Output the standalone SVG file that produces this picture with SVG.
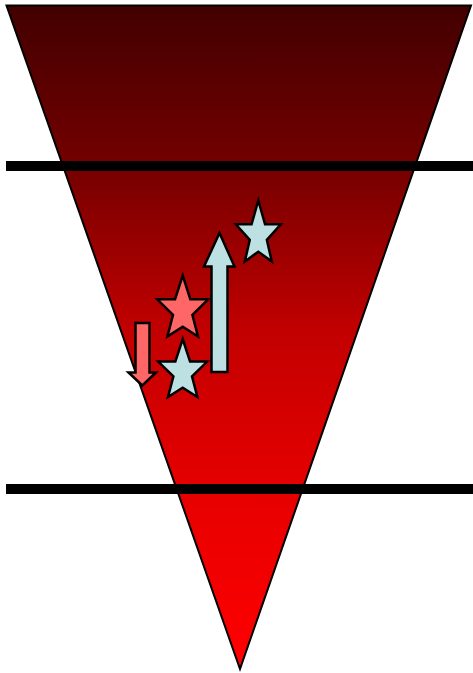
<svg xmlns="http://www.w3.org/2000/svg" width="473" height="673" viewBox="0 0 473 673">
  <style>
    .shape { stroke: #000; stroke-width: 2.5; stroke-linejoin: miter; }
    .funnel { stroke: #000; stroke-width: 2; }
    .blue { fill: #bde0e3; }
    .red { fill: #ff6666; }
    .bar { stroke: #000; stroke-width: 10; fill: none; }
  </style>
  <defs>
    <linearGradient id="grad" gradientUnits="userSpaceOnUse" x1="0" y1="5" x2="0" y2="669">
      <stop offset="0" stop-color="#420000"/>
      <stop offset="0.242" stop-color="#740000"/>
      <stop offset="0.49" stop-color="#c20000"/>
      <stop offset="0.73" stop-color="#e60000"/>
      <stop offset="1" stop-color="#ff0000"/>
    </linearGradient>
  </defs>
  <rect width="473" height="673" fill="#fff"/>
  <g id="funnel">
    <polygon class="funnel" fill="url(#grad)" points="6.5,5.5 471,5.5 240,669"/>
  </g>
  <g id="connectors">
    <line class="bar" x1="6" y1="166" x2="473" y2="166"/>
    <line class="bar" x1="6" y1="489" x2="473" y2="489"/>
  </g>
  <g id="star-top">
    <polygon class="shape blue" points="258.3,200.5 265.05,224.3 280.8,224.3 266.85,239.8 271.8,261.5 258.3,251.7 244.8,261.5 249.75,239.8 235.8,224.3 251.55,224.3"/>
  </g>
  <g id="star-red">
    <polygon class="shape red" points="182.7,275.5 190.35,299.3 208.2,299.3 192.4,314.8 198,336.5 182.7,326.7 167.4,336.5 173,314.8 157.2,299.3 175.05,299.3"/>
  </g>
  <g id="star-bottom">
    <polygon class="shape blue" points="182.7,339 190.05,361.6 207.2,361.6 192,376.4 197.4,397 182.7,387.7 168,397 173.4,376.4 158.2,361.6 175.35,361.6"/>
  </g>
  <g id="arrow-up">
    <polygon class="shape blue" points="219.5,233 234.5,266.5 227.5,266.5 227.5,372 211.5,372 211.5,266.5 204,266.5"/>
  </g>
  <g id="arrow-down">
    <polygon class="shape red" points="135.5,323 149.5,323 149.5,372.5 156,372.5 142.3,385.5 128.5,372.5 135.5,372.5"/>
  </g>
</svg>
